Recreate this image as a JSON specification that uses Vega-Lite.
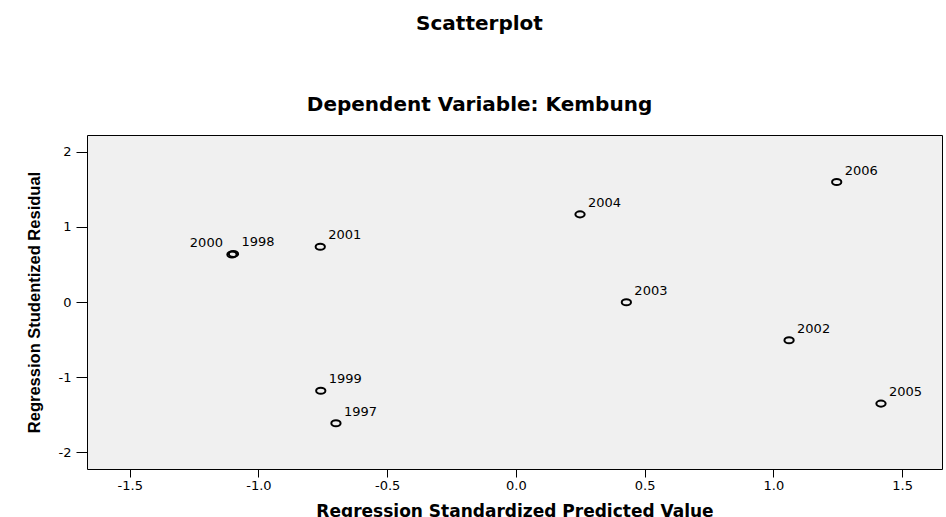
{
  "$schema": "https://vega.github.io/schema/vega-lite/v6.json",
  "autosize": "none",
  "width": 855,
  "height": 334,
  "padding": {"left": 87, "top": 135, "right": 4, "bottom": 48},
  "background": "white",
  "title": {
    "text": "Scatterplot",
    "subtitle": "Dependent Variable: Kembung",
    "anchor": "middle",
    "frame": "group",
    "dx": -35,
    "offset": 20,
    "font": "DejaVu Sans",
    "fontSize": 20,
    "fontWeight": "bold",
    "color": "black",
    "subtitleFont": "DejaVu Sans",
    "subtitleFontSize": 20,
    "subtitleFontWeight": "bold",
    "subtitleColor": "black",
    "subtitlePadding": 61
  },
  "data": {
    "values": [
      {"year": "1997", "predicted": -0.699, "residual": -1.613},
      {"year": "1998", "predicted": -1.097, "residual": 0.640},
      {"year": "1999", "predicted": -0.758, "residual": -1.180},
      {"year": "2000", "predicted": -1.103, "residual": 0.632},
      {"year": "2001", "predicted": -0.760, "residual": 0.735},
      {"year": "2002", "predicted": 1.061, "residual": -0.509},
      {"year": "2003", "predicted": 0.429, "residual": -0.004},
      {"year": "2004", "predicted": 0.249, "residual": 1.166},
      {"year": "2005", "predicted": 1.418, "residual": -1.352},
      {"year": "2006", "predicted": 1.246, "residual": 1.596}
    ]
  },
  "encoding": {
    "x": {
      "field": "predicted",
      "type": "quantitative",
      "scale": {"domain": [-1.666, 1.655], "nice": false, "zero": false},
      "axis": {
        "title": "Regression Standardized Predicted Value",
        "values": [-1.5, -1.0, -0.5, 0.0, 0.5, 1.0, 1.5],
        "format": ".1f",
        "labelExpr": "replace(datum.label, '−', '-')",
        "grid": false,
        "domain": false,
        "tickSize": 8,
        "tickColor": "black",
        "tickWidth": 1,
        "labelPadding": 2,
        "labelFont": "DejaVu Sans",
        "labelFontSize": 13,
        "labelColor": "black",
        "titleFont": "DejaVu Sans",
        "titleFontSize": 17,
        "titleFontWeight": "bold",
        "titleColor": "black",
        "titlePadding": 11
      }
    },
    "y": {
      "field": "residual",
      "type": "quantitative",
      "scale": {"domain": [-2.222, 2.222], "nice": false, "zero": false},
      "axis": {
        "title": "Regression Studentized Residual",
        "values": [-2, -1, 0, 1, 2],
        "format": "d",
        "labelExpr": "replace(datum.label, '−', '-')",
        "grid": false,
        "domain": false,
        "tickSize": 11,
        "tickColor": "black",
        "tickWidth": 1,
        "labelPadding": 5,
        "labelFont": "DejaVu Sans",
        "labelFontSize": 13,
        "labelColor": "black",
        "titleFont": "Liberation Sans",
        "titleFontSize": 16.5,
        "titleFontWeight": "bold",
        "titleColor": "black",
        "titlePadding": 16
      }
    }
  },
  "layer": [
    {
      "mark": {
        "type": "point",
        "shape": "M-1,0A1,0.65,0,1,1,1,0A1,0.65,0,1,1,-1,0Z",
        "size": 86,
        "filled": false,
        "stroke": "black",
        "strokeWidth": 2,
        "opacity": 1
      }
    },
    {
      "transform": [{"filter": "datum.year != '2000'"}],
      "mark": {
        "type": "text",
        "align": "left",
        "baseline": "alphabetic",
        "dx": 8,
        "dy": -7.5,
        "font": "DejaVu Sans",
        "fontSize": 13,
        "color": "black"
      },
      "encoding": {"text": {"field": "year"}}
    },
    {
      "transform": [{"filter": "datum.year == '2000'"}],
      "mark": {
        "type": "text",
        "align": "right",
        "baseline": "alphabetic",
        "dx": -9,
        "dy": -7.5,
        "font": "DejaVu Sans",
        "fontSize": 13,
        "color": "black"
      },
      "encoding": {"text": {"field": "year"}}
    }
  ],
  "config": {
    "view": {"fill": "#f0f0f0", "stroke": "black", "strokeWidth": 1}
  }
}
